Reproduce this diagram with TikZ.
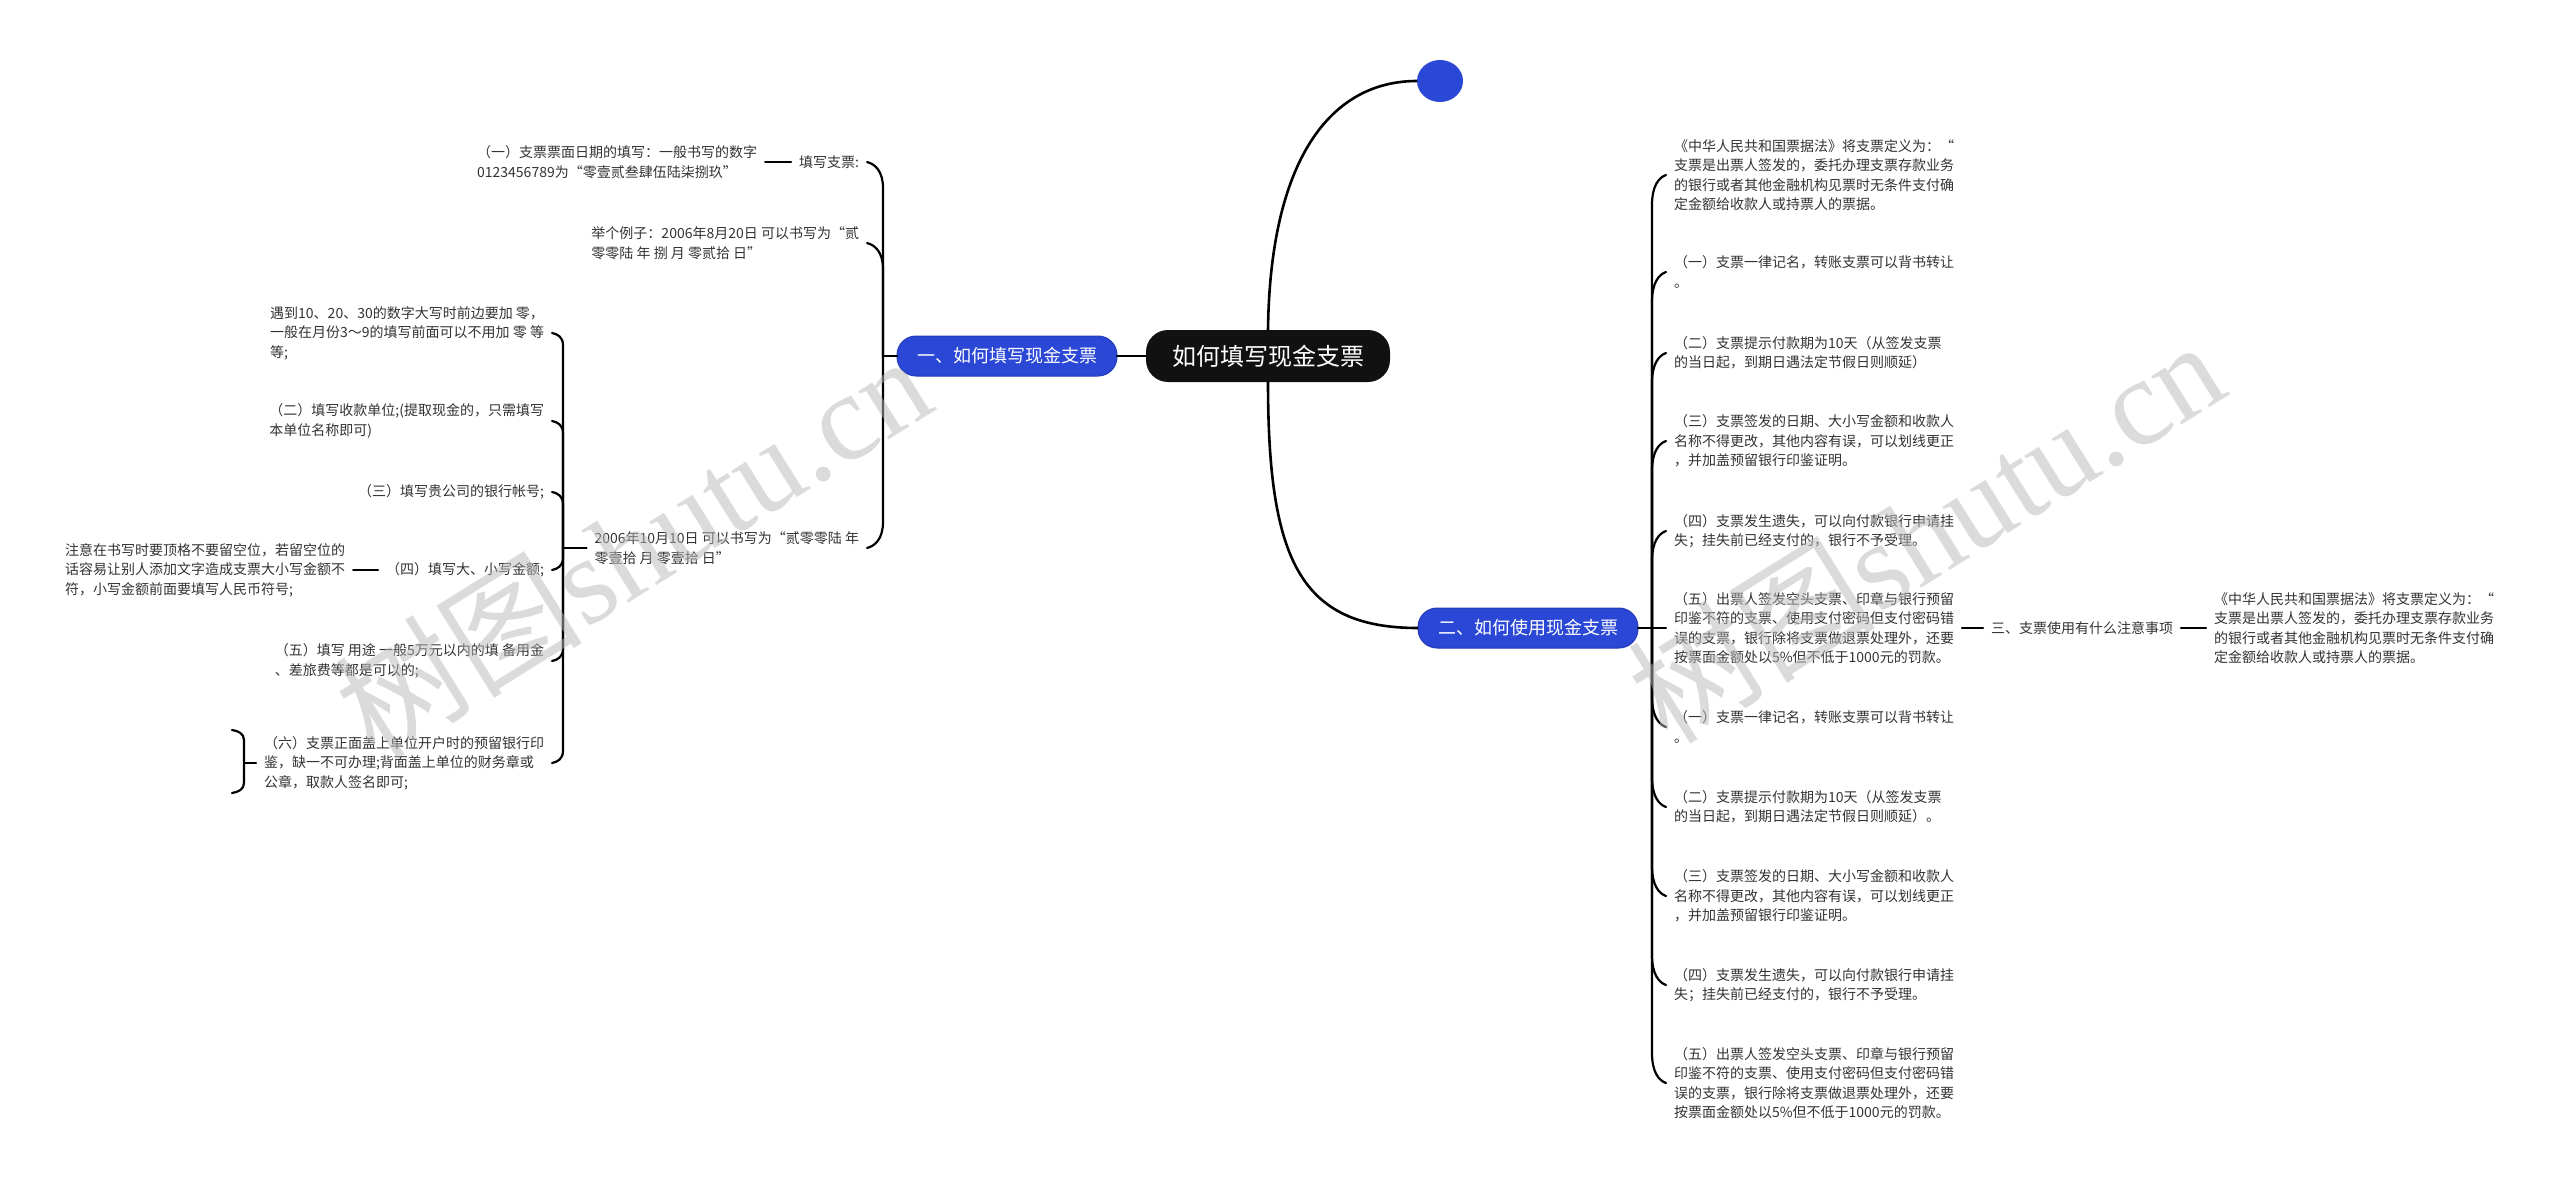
\documentclass[tikz,border=0pt]{standalone}
\usepackage{fontspec}
\setmainfont{Noto Sans CJK SC}
\newfontfamily\wmlatin{Liberation Serif}
\usetikzlibrary{calc,shapes.geometric}
\definecolor{mblue}{HTML}{2B47D6}
\definecolor{mdark}{HTML}{111111}
\definecolor{wmgray}{HTML}{B8B8B8}
\tikzset{
  conn/.style={line width=2.2pt, black, line cap=round},
  mainconn/.style={line width=2.6pt, black},
  txt/.style={font=\fontsize{14}{19.5}\selectfont, align=left, inner xsep=8pt, inner ysep=0pt, outer sep=0pt, text=black!80},
  rootnode/.style={fill=mdark, rounded corners=22pt, minimum width=244pt, minimum height=52pt, text=white, font=\fontsize{24}{28}\selectfont, inner sep=0pt, outer sep=0pt},
  topicnode/.style={fill=mblue, draw=mblue!85!black, line width=1pt, rounded corners=19pt, minimum height=40pt, text=white, font=\fontsize{18}{22}\selectfont, inner xsep=20pt, inner ysep=0pt, outer sep=0pt},
  dotnode/.style={ellipse, fill=mblue, minimum width=46pt, minimum height=42pt, inner sep=0pt, outer sep=0pt},
  wm/.style={text=wmgray, text opacity=0.5, rotate=32, font=\fontsize{124}{124}\selectfont, inner sep=0pt},
}
\newcommand\bconn[3]{%
  \draw[conn] let \p1=(#1), \p2=(#2), \n1={sign(\y1-\y2)*(#3)} in
    (\p1) -- (\x1,{\y2+\n1}) .. controls (\x1,{\y2+0.35*\n1}) and ({\x1+0.5*(\x2-\x1)},{\y2+0.08*\n1}) .. (\p2);}
\begin{document}
\begin{tikzpicture}[x=1pt,y=-1pt]
\useasboundingbox (0,0) rectangle (2560,1185);
\fill[white] (0,0) rectangle (2560,1185);

% main nodes
\node[rootnode] (root) at (1268,356) {如何填写现金支票};
\node[topicnode] (t1) at (1007,356) {一、如何填写现金支票};
\node[topicnode] (t2) at (1528,628) {二、如何使用现金支票};
\node[dotnode] (dot) at (1440,81) {};

\draw[conn] (root.west) -- (t1.east);
\draw[mainconn] (root.north) .. controls (1270,160) and (1330,81) .. (dot.west);
\draw[mainconn] (root.south) .. controls (1268,560) and (1300,628) .. (t2.west);

% ---------- left, level 1
\coordinate (hL1) at (883,356);
\draw[conn] (t1.west) -- (hL1);
\node[txt,anchor=east] (a) at (867,162) {填写支票:};
\node[txt,anchor=east] (a1) at ($(a.west)+(-26,0)$) {（一）支票票面日期的填写：一般书写的数字\\0123456789为“零壹贰叁肆伍陆柒捌玖”};
\draw[conn] (a.west) -- (a1.east);
\node[txt,anchor=east] (b) at (867,243) {举个例子：2006年8月20日 可以书写为“贰\\零零陆 年 捌 月 零贰拾 日”};
\node[txt,anchor=east] (c) at (867,548) {2006年10月10日 可以书写为“贰零零陆 年\\零壹拾 月 零壹拾 日”};
\bconn{hL1}{a.east}{26}
\bconn{hL1}{b.east}{26}
\bconn{hL1}{c.east}{26}

% ---------- left, level 2
\coordinate (hL2) at (563,548);
\draw[conn] (c.west) -- (hL2);
\node[txt,anchor=east] (d1) at (552,333) {遇到10、20、30的数字大写时前边要加 零，\\一般在月份3～9的填写前面可以不用加 零 等\\等;};
\node[txt,anchor=east] (d2) at (552,421) {（二）填写收款单位;(提取现金的，只需填写\\本单位名称即可)};
\node[txt,anchor=east] (d3) at (552,492) {（三）填写贵公司的银行帐号;};
\node[txt,anchor=east] (d4) at (552,570) {（四）填写大、小写金额;};
\node[txt,anchor=east] (d5) at (552,661) {（五）填写 用途 一般5万元以内的填 备用金\\、差旅费等都是可以的;};
\node[txt,anchor=east] (d6) at (552,763) {（六）支票正面盖上单位开户时的预留银行印\\鉴，缺一不可办理;背面盖上单位的财务章或\\公章，取款人签名即可;};
\bconn{hL2}{d1.east}{12}
\bconn{hL2}{d2.east}{12}
\bconn{hL2}{d3.east}{12}
\bconn{hL2}{d4.east}{12}
\bconn{hL2}{d5.east}{12}
\bconn{hL2}{d6.east}{12}

\node[txt,anchor=east] (e) at ($(d4.west)+(-25,0)$) {注意在书写时要顶格不要留空位，若留空位的\\话容易让别人添加文字造成支票大小写金额不\\符，小写金额前面要填写人民币符号;};
\draw[conn] (d4.west) -- (e.east);

\coordinate (h6) at ($(d6.west)+(-12,0)$);
\draw[conn] (d6.west) -- (h6);
\coordinate (e6a) at ($(h6)+(-12,-33)$);
\coordinate (e6b) at ($(h6)+(-12,30)$);
\bconn{h6}{e6a}{10}
\bconn{h6}{e6b}{10}

% ---------- right
\coordinate (hR) at (1652,628);
\draw[conn] (t2.east) -- (hR);
\node[txt,anchor=west] (r1) at (1666,175) {《中华人民共和国票据法》将支票定义为：“\\支票是出票人签发的，委托办理支票存款业务\\的银行或者其他金融机构见票时无条件支付确\\定金额给收款人或持票人的票据。};
\node[txt,anchor=west] (r2) at (1666,272) {（一）支票一律记名，转账支票可以背书转让\\。};
\node[txt,anchor=west] (r3) at (1666,353) {（二）支票提示付款期为10天（从签发支票\\的当日起，到期日遇法定节假日则顺延）};
\node[txt,anchor=west] (r4) at (1666,441) {（三）支票签发的日期、大小写金额和收款人\\名称不得更改，其他内容有误，可以划线更正\\，并加盖预留银行印鉴证明。};
\node[txt,anchor=west] (r5) at (1666,531) {（四）支票发生遗失，可以向付款银行申请挂\\失；挂失前已经支付的，银行不予受理。};
\node[txt,anchor=west] (r6) at (1666,628) {（五）出票人签发空头支票、印章与银行预留\\印鉴不符的支票、使用支付密码但支付密码错\\误的支票，银行除将支票做退票处理外，还要\\按票面金额处以5\%但不低于1000元的罚款。};
\node[txt,anchor=west] (r7) at (1666,727) {（一）支票一律记名，转账支票可以背书转让\\。};
\node[txt,anchor=west] (r8) at (1666,807) {（二）支票提示付款期为10天（从签发支票\\的当日起，到期日遇法定节假日则顺延）。};
\node[txt,anchor=west] (r9) at (1666,896) {（三）支票签发的日期、大小写金额和收款人\\名称不得更改，其他内容有误，可以划线更正\\，并加盖预留银行印鉴证明。};
\node[txt,anchor=west] (r10) at (1666,985) {（四）支票发生遗失，可以向付款银行申请挂\\失；挂失前已经支付的，银行不予受理。};
\node[txt,anchor=west] (r11) at (1666,1083) {（五）出票人签发空头支票、印章与银行预留\\印鉴不符的支票、使用支付密码但支付密码错\\误的支票，银行除将支票做退票处理外，还要\\按票面金额处以5\%但不低于1000元的罚款。};
\bconn{hR}{r1.west}{30}
\bconn{hR}{r2.west}{30}
\bconn{hR}{r3.west}{30}
\bconn{hR}{r4.west}{30}
\bconn{hR}{r5.west}{30}
\draw[conn] (hR) -- (r6.west);
\bconn{hR}{r7.west}{30}
\bconn{hR}{r8.west}{30}
\bconn{hR}{r9.west}{30}
\bconn{hR}{r10.west}{30}
\bconn{hR}{r11.west}{30}

\node[txt,anchor=west] (s3) at ($(r6.east)+(21,0)$) {三、支票使用有什么注意事项};
\draw[conn] (r6.east) -- (s3.west);
\node[txt,anchor=west] (s4) at ($(s3.east)+(25,0)$) {《中华人民共和国票据法》将支票定义为：“\\支票是出票人签发的，委托办理支票存款业务\\的银行或者其他金融机构见票时无条件支付确\\定金额给收款人或持票人的票据。};
\draw[conn] (s3.east) -- (s4.west);

% watermarks
\node[wm] (wm1) at (632,545) {树图{\wmlatin shutu.cn}};
\node[wm] (wm2) at (1925,530) {树图{\wmlatin shutu.cn}};
\end{tikzpicture}
\end{document}
